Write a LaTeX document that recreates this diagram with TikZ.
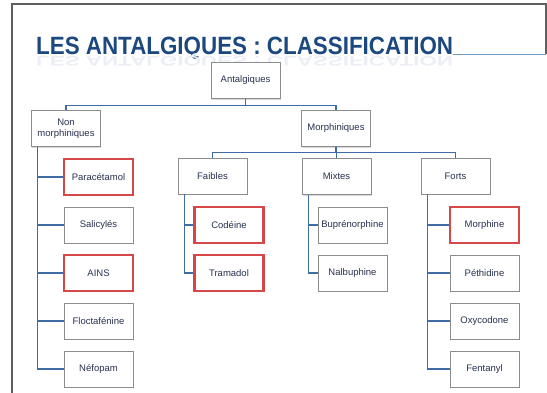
\documentclass[tikz,border=0pt]{standalone}
\usepackage{fontspec}
\setmainfont{Liberation Sans}
\usepackage{graphicx}
\usetikzlibrary{positioning, shadows, calc}
\definecolor{titleblue}{RGB}{28,72,128}
\definecolor{rulecol}{RGB}{110,155,195}
\definecolor{linkblue}{RGB}{62,108,165}
\definecolor{boxtext}{RGB}{40,50,80}
\definecolor{markred}{RGB}{214,72,72}
\definecolor{framegray}{RGB}{95,95,95}
\tikzset{
    box/.style={
        draw=black!45,
        line width=0.6pt,
        fill=white,
        minimum width=69pt,
        minimum height=36pt,
        inner sep=1pt,
        align=center,
        text=boxtext,
        font=\fontsize{9.5}{11}\selectfont,
        drop shadow={shadow xshift=0.8pt, shadow yshift=-1.2pt, opacity=0.3}
    },
    redbox/.style={box, draw=markred, line width=2.4pt},
    link/.style={draw=linkblue, line width=1.1pt},
    titletext/.style={anchor=base west, inner sep=0pt, font=\fontsize{25}{25}\selectfont\bfseries}
}

\begin{document}
\begin{tikzpicture}[x=1pt, y=-1pt]
\useasboundingbox (0,0) rectangle (547,393);

% frame of the slide
\draw[framegray, line width=1.2pt] (12,393) -- (12,4) -- (546,4) -- (546,54);

% title and its reflection
\node[titletext, text=titleblue] (title) at (36,54.5)
    {\scalebox{0.895}[1]{LES ANTALGIQUES : CLASSIFICATION}};
\node[titletext, text=titleblue!9] (reflet) at (36,56.5)
    {\scalebox{0.895}[-0.55]{LES ANTALGIQUES : CLASSIFICATION}};
\coordinate (rule end) at (546,54);
\draw[rulecol, line width=1.2pt] (title.base east) -- (title.base east -| rule end);

% top levels
\node[box] (ant)   at (245.5,80.5) {Antalgiques};
\node[box] (nonm)  at (66,128.5)   {Non\\morphiniques};
\node[box] (morph) at (336,128.5)  {Morphiniques};
\node[box] (faib)  at (212.5,176)  {Faibles};
\node[box] (mixt)  at (336.5,176.5) {Mixtes};
\node[box] (forts) at (455.5,176)  {Forts};

% leaves
\foreach \name/\txt/\st [count=\i] in {para/Paracétamol/redbox, sali/Salicylés/box, ains/AINS/redbox, floc/Floctafénine/box, nefo/Néfopam/box}
    \node[\st] (\name) at (98.5,{177+48*(\i-1)}) {\txt};
\foreach \name/\txt/\st [count=\i] in {code/Codéine/redbox, tram/Tramadol/redbox}
    \node[\st] (\name) at (229,{225+48*(\i-1)}) {\txt};
\foreach \name/\txt/\st [count=\i] in {bupr/Buprénorphine/box, nalb/Nalbuphine/box}
    \node[\st] (\name) at (352.5,{225+48*(\i-1)}) {\txt};
\foreach \name/\txt/\st [count=\i] in {morp/Morphine/redbox, peth/Péthidine/box, oxyc/Oxycodone/box, fent/Fentanyl/box}
    \node[\st] (\name) at (484.5,{225+48*(\i-1)}) {\txt};

% connectors
\draw[link] (ant.south) -- ++(0,6.5) -| (nonm.north);
\draw[link] (ant.south) -- ++(0,6.5) -| (morph.north);
\foreach \c in {faib, mixt, forts}
    \draw[link] (morph.south) -- ++(0,6) -| (\c.north);

\coordinate (nonm trunk)  at ($(nonm.south west)+(6.5,0)$);
\coordinate (faib trunk)  at ($(faib.south west)+(6.5,0)$);
\coordinate (mixt trunk)  at ($(mixt.south west)+(7,0)$);
\coordinate (forts trunk) at ($(forts.south west)+(7,0)$);
\foreach \c in {para, sali, ains, floc, nefo}
    \draw[link] (nonm trunk) |- (\c.west);
\foreach \c in {code, tram}
    \draw[link] (faib trunk) |- (\c.west);
\foreach \c in {bupr, nalb}
    \draw[link] (mixt trunk) |- (\c.west);
\foreach \c in {morp, peth, oxyc, fent}
    \draw[link] (forts trunk) |- (\c.west);

\end{tikzpicture}
\end{document}
